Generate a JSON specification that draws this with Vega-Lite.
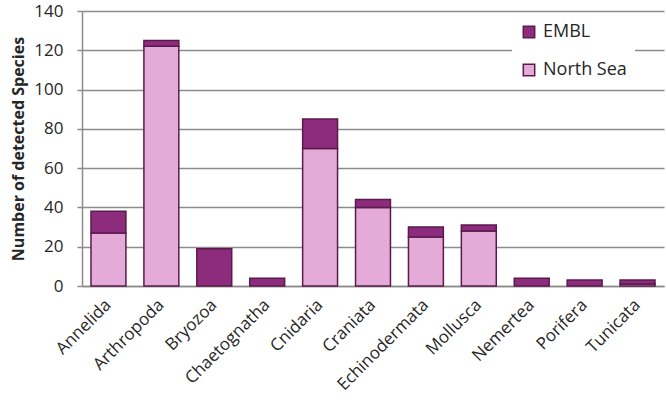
{
  "$schema": "https://vega.github.io/schema/vega-lite/v6.json",
  "autosize": {"type": "none"},
  "padding": {"left": 82, "top": 11, "right": 2, "bottom": 114},
  "width": 582,
  "height": 275,
  "background": "white",
  "config": {
    "font": "Open Sans",
    "view": {"stroke": null},
    "axis": {"labelColor": "#262626", "titleColor": "#262626"}
  },
  "data": {
    "values": [
      {"phylum": "Annelida", "series": "North Sea", "count": 27},
      {"phylum": "Annelida", "series": "EMBL", "count": 11},
      {"phylum": "Arthropoda", "series": "North Sea", "count": 122},
      {"phylum": "Arthropoda", "series": "EMBL", "count": 3},
      {"phylum": "Bryozoa", "series": "North Sea", "count": 0},
      {"phylum": "Bryozoa", "series": "EMBL", "count": 19},
      {"phylum": "Chaetognatha", "series": "North Sea", "count": 0},
      {"phylum": "Chaetognatha", "series": "EMBL", "count": 4},
      {"phylum": "Cnidaria", "series": "North Sea", "count": 70},
      {"phylum": "Cnidaria", "series": "EMBL", "count": 15},
      {"phylum": "Craniata", "series": "North Sea", "count": 40},
      {"phylum": "Craniata", "series": "EMBL", "count": 4},
      {"phylum": "Echinodermata", "series": "North Sea", "count": 25},
      {"phylum": "Echinodermata", "series": "EMBL", "count": 5},
      {"phylum": "Mollusca", "series": "North Sea", "count": 28},
      {"phylum": "Mollusca", "series": "EMBL", "count": 3},
      {"phylum": "Nemertea", "series": "North Sea", "count": 0},
      {"phylum": "Nemertea", "series": "EMBL", "count": 4},
      {"phylum": "Porifera", "series": "North Sea", "count": 0},
      {"phylum": "Porifera", "series": "EMBL", "count": 3},
      {"phylum": "Tunicata", "series": "North Sea", "count": 1},
      {"phylum": "Tunicata", "series": "EMBL", "count": 2}
    ]
  },
  "transform": [{"filter": "datum.count > 0"}],
  "mark": {"type": "bar", "stroke": "#5A1A4E", "strokeWidth": 1.5},
  "encoding": {
    "x": {
      "field": "phylum",
      "type": "nominal",
      "sort": null,
      "title": null,
      "scale": {"paddingInner": 0.34, "paddingOuter": 0.17},
      "axis": {
        "labelAngle": -45,
        "labelAlign": "right",
        "labelBaseline": "middle",
        "labelFontSize": 17,
        "labelPadding": 16,
        "labelOffset": 0,
        "ticks": false,
        "domainColor": "#8C8C8C",
        "domainWidth": 1.5
      }
    },
    "y": {
      "field": "count",
      "type": "quantitative",
      "stack": "zero",
      "title": "Number of detected Species",
      "scale": {"domain": [0, 140], "nice": false},
      "axis": {
        "values": [0, 20, 40, 60, 80, 100, 120, 140],
        "labelFontSize": 17,
        "labelPadding": 14,
        "tickColor": "#8C8C8C",
        "tickSize": 5,
        "tickWidth": 1.5,
        "gridColor": "#8C8C8C",
        "gridWidth": 1.5,
        "domainColor": "#8C8C8C",
        "domainWidth": 1.5,
        "titleFontSize": 16,
        "titleFontWeight": "bold",
        "titlePadding": 7
      }
    },
    "color": {
      "field": "series",
      "type": "nominal",
      "scale": {"domain": ["EMBL", "North Sea"], "range": ["#8D2C7C", "#E4AAD8"]},
      "legend": {
        "title": null,
        "orient": "none",
        "legendX": 430,
        "legendY": 4,
        "fillColor": "white",
        "padding": 8,
        "symbolType": "square",
        "symbolSize": 130,
        "symbolStrokeColor": "#5A1A4E",
        "symbolStrokeWidth": 1.5,
        "labelFontSize": 18,
        "labelColor": "#262626",
        "rowPadding": 20,
        "labelOffset": 5
      }
    },
    "order": {"field": "series", "sort": "descending"}
  }
}
